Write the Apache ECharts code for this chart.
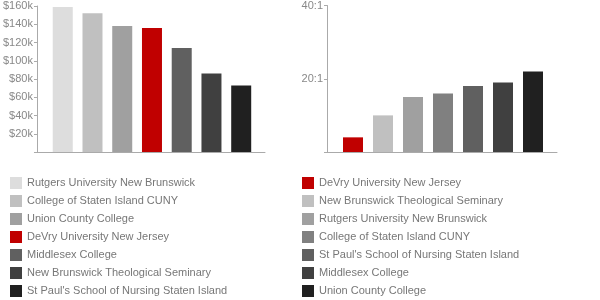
<!DOCTYPE html>
<html>
<head>
<meta charset="utf-8">
<style>
  html, body { margin: 0; padding: 0; background: #fff; }
  #chart { width: 600px; height: 300px; }
</style>
<script src="https://cdn.jsdelivr.net/npm/echarts@6/dist/echarts.min.js"></script>
</head>
<body>
<div id="chart"></div>
<script>
// left chart: salaries
const salarySchools = [
  'Rutgers University New Brunswick',
  'College of Staten Island CUNY',
  'Union County College',
  'DeVry University New Jersey',
  'Middlesex College',
  'New Brunswick Theological Seminary',
  "St Paul's School of Nursing Staten Island"
]
const salaryValues = [159000, 152000, 138000, 136000, 114000, 86000, 73000]

// right chart: student / faculty ratio
const ratioSchools = [
  'DeVry University New Jersey',
  'New Brunswick Theological Seminary',
  'Rutgers University New Brunswick',
  'College of Staten Island CUNY',
  "St Paul's School of Nursing Staten Island",
  'Middlesex College',
  'Union County College'
]
const ratioValues = [4, 10, 15, 16, 18, 19, 22]

const salaryColors = ['#dddddd', '#c0c0c0', '#a0a0a0', '#c00000', '#606060', '#404040', '#202020']
const ratioColors = ['#c00000', '#c0c0c0', '#a0a0a0', '#808080', '#606060', '#404040', '#202020']

const font = '"Liberation Sans", Arial, Helvetica, sans-serif'
const axisGray = '#aaaaaa'

function xAxisFor(gridIndex) {
  return {
    type: 'value',
    gridIndex,
    min: -0.8667,
    max: 6.8,
    axisLine: { show: true, onZero: false, lineStyle: { color: axisGray, width: 1 } },
    axisTick: { show: false },
    axisLabel: { show: false },
    splitLine: { show: false }
  }
}

function yAxisFor(gridIndex, max, interval, fmt) {
  return {
    type: 'value',
    gridIndex,
    min: 0,
    max,
    interval,
    axisLine: { show: true, onZero: false, lineStyle: { color: axisGray, width: 1 } },
    axisTick: { show: true, length: 3, lineStyle: { color: axisGray } },
    axisLabel: {
      margin: 4,
      color: '#888888',
      fontSize: 11,
      fontFamily: font,
      formatter: v => (v === 0 ? '' : fmt(v))
    },
    splitLine: { show: false }
  }
}

function barSeries(names, values, colors, axisIndex) {
  return names.map((name, i) => ({
    name,
    type: 'bar',
    xAxisIndex: axisIndex,
    yAxisIndex: axisIndex,
    barWidth: 20,
    barGap: '-100%',
    itemStyle: { color: colors[i] },
    data: [[i, values[i]]],
    animation: false
  }))
}

function legendFor(names, colors, left) {
  return {
    orient: 'vertical',
    left,
    top: 177,
    padding: 0,
    itemWidth: 12,
    itemHeight: 12,
    itemGap: 6,
    icon: 'rect',
    selectedMode: false,
    textStyle: { color: '#777777', fontSize: 11, fontFamily: font },
    data: names.map((name, i) => ({ name, itemStyle: { color: colors[i] } }))
  }
}

const chart = echarts.init(document.getElementById('chart'), null, { renderer: 'canvas' })
chart.setOption({
  animation: false,
  textStyle: { fontFamily: font },
  grid: [
    { left: 35, top: 6, width: 230, height: 146 },
    { left: 327, top: 4, width: 230, height: 148 }
  ],
  xAxis: [xAxisFor(0), xAxisFor(1)],
  yAxis: [
    yAxisFor(0, 160000, 20000, v => '$' + v / 1000 + 'k'),
    yAxisFor(1, 40, 20, v => v + ':1')
  ],
  legend: [
    legendFor(salarySchools, salaryColors, 10),
    legendFor(ratioSchools, ratioColors, 302)
  ],
  series: [
    ...barSeries(salarySchools, salaryValues, salaryColors, 0),
    ...barSeries(ratioSchools, ratioValues, ratioColors, 1)
  ]
})
</script>
</body>
</html>
